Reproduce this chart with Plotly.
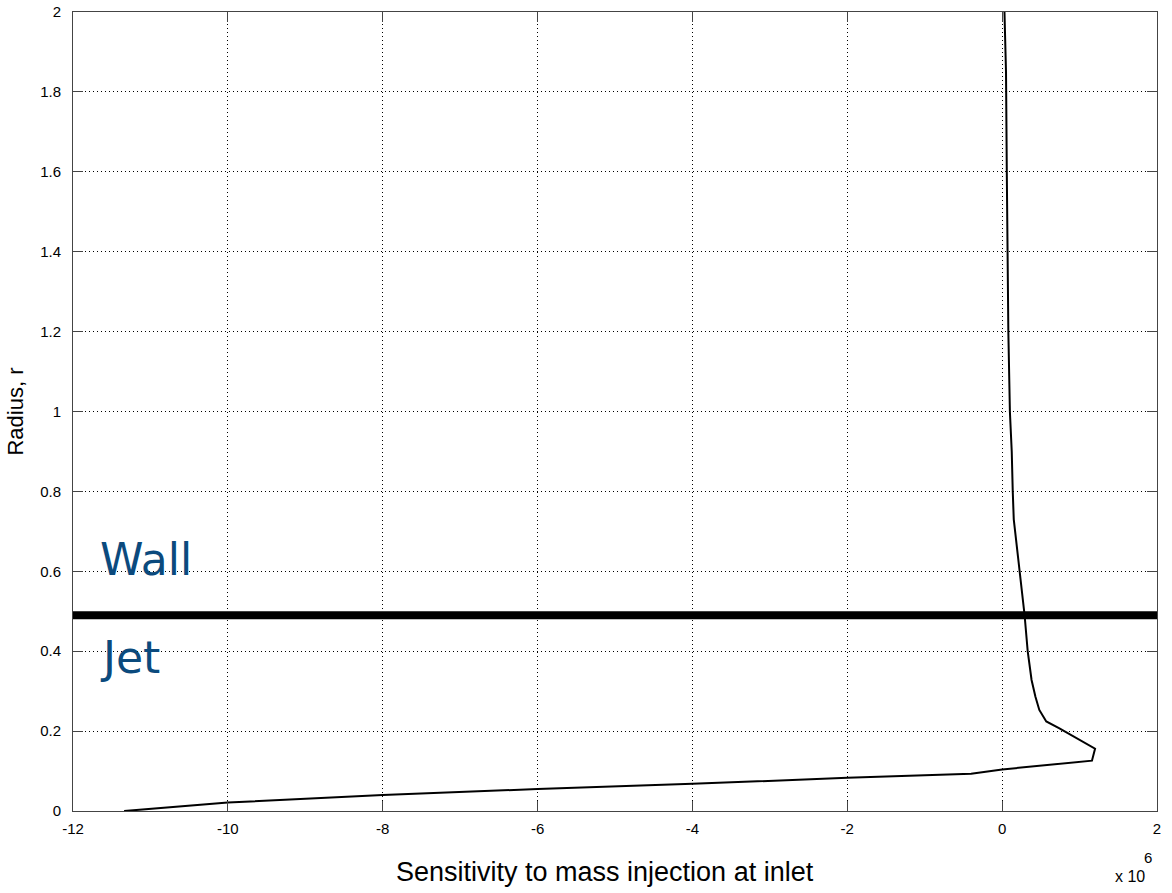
import plotly.graph_objects as go

# Sensitivity values (x 10^6) vs radius r
sensitivity = [-11.34, -10.0, -8.0, -6.0, -4.0, -2.0, -0.4, 0.0, 1.16, 1.20, 0.74, 0.57, 0.48,
               0.43, 0.38, 0.33, 0.29, 0.22, 0.15, 0.137, 0.124, 0.10, 0.08, 0.06, 0.05, 0.03]
radius = [0.0, 0.021, 0.040, 0.055, 0.068, 0.083, 0.093, 0.104, 0.126, 0.156, 0.207, 0.224, 0.253,
          0.286, 0.328, 0.40, 0.49, 0.603, 0.73, 0.80, 0.90, 1.0, 1.2, 1.6, 1.85, 2.0]

wall_r = 0.49
wall_x = [-12, 2]

x_ticks = [-12, -10, -8, -6, -4, -2, 0, 2]
y_ticks = [0, 0.2, 0.4, 0.6, 0.8, 1, 1.2, 1.4, 1.6, 1.8, 2]
y_tick_labels = ["0", "0.2", "0.4", "0.6", "0.8", "1", "1.2", "1.4", "1.6", "1.8", "2"]

fig = go.Figure()
fig.add_trace(go.Scatter(x=wall_x, y=[wall_r, wall_r], mode="lines",
                         line=dict(color="black", width=8), showlegend=False, hoverinfo="skip"))
fig.add_trace(go.Scatter(x=sensitivity, y=radius, mode="lines",
                         line=dict(color="black", width=2), showlegend=False))

fig.add_annotation(x=-11.68, y=0.63, xref="x", yref="y", text="Wall", showarrow=False,
                   xanchor="left", yanchor="middle",
                   font=dict(family="DejaVu Sans", size=44, color="#0b4a7d"))
fig.add_annotation(x=-11.68, y=0.385, xref="x", yref="y", text="Jet", showarrow=False,
                   xanchor="left", yanchor="middle",
                   font=dict(family="DejaVu Sans", size=44, color="#0b4a7d"))
# x-axis title and exponent
fig.add_annotation(x=0.491, y=-0.0765, xref="paper", yref="paper",
                   text="Sensitivity to mass injection at inlet",
                   showarrow=False, xanchor="center", yanchor="middle",
                   font=dict(family="Liberation Sans", size=27, color="black"))
fig.add_annotation(x=0.9905, y=-0.0815, xref="paper", yref="paper", text="x 10",
                   showarrow=False, xanchor="right", yanchor="middle",
                   font=dict(family="Liberation Sans", size=16, color="black"))
fig.add_annotation(x=0.9975, y=-0.058, xref="paper", yref="paper", text="6",
                   showarrow=False, xanchor="right", yanchor="middle",
                   font=dict(family="Liberation Sans", size=15, color="black"))

axis_common = dict(showline=True, linecolor="#444", linewidth=1, mirror="ticks",
                   ticks="inside", ticklen=10, tickcolor="#444", automargin=False,
                   showgrid=True, gridcolor="black", griddash="1px,3px", gridwidth=1,
                   zeroline=False, tickfont=dict(family="Liberation Sans", size=15, color="black"))

fig.update_xaxes(range=[-12, 2], tickvals=x_ticks, ticktext=[str(v) for v in x_ticks],
                 ticklabelstandoff=4, **axis_common)
fig.update_yaxes(range=[0, 2], tickvals=y_ticks, ticktext=y_tick_labels,
                 ticklabelstandoff=8,
                 title=dict(text="Radius, r",
                            font=dict(family="Liberation Sans", size=22, color="black"),
                            standoff=10),
                 **axis_common)

fig.update_layout(width=1172, height=893, margin=dict(l=73, r=15, t=12, b=82),
                  plot_bgcolor="white", paper_bgcolor="white")

fig.write_html("out.html")
